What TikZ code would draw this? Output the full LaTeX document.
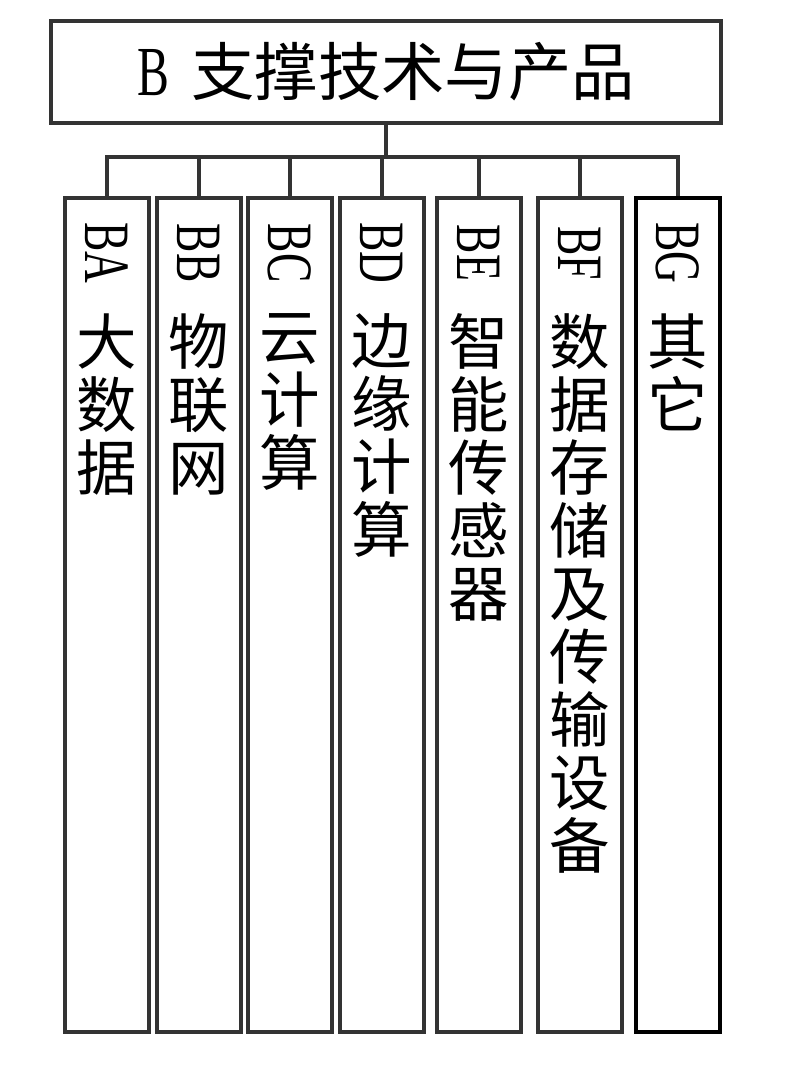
\documentclass[tikz,border=0pt]{standalone}
\usepackage{graphicx}
\usepackage{fontspec}
\setmainfont{Liberation Serif}
\newfontfamily\cjk{Noto Sans CJK SC}
\usetikzlibrary{positioning}
\newcommand{\narrowlat}[1]{\scalebox{0.68}[1]{#1}}

\begin{document}
\begin{tikzpicture}[x=0.025cm,y=-0.025cm,
  box/.style={draw=black!80,line width=2.6pt,inner sep=0pt},
  leaf/.style={box,minimum width=2.1cm,minimum height=20.85cm,anchor=north},
  code/.style={rotate=-90,inner sep=0pt,font=\fontsize{46pt}{46pt}\selectfont},
  cn/.style={anchor=north,inner sep=0pt,align=center,font=\cjk\fontsize{43pt}{44.8pt}\selectfont}]
  \useasboundingbox (0,0) rectangle (800,1073);
  \node[box,line width=2.8pt,minimum width=16.75cm,minimum height=2.55cm] (top) at (386,72)
    {\fontsize{50pt}{50pt}\selectfont\narrowlat{B}\hspace{16pt}{\cjk\fontsize{45pt}{45pt}\selectfont 支撑技术与产品}};
  \coordinate (bar) at (386,157);
  \draw[black!80,line width=2.6pt] (top.south) -- (bar);
  \foreach \n/\x/\c/\t in {BA/107/black!80/{大\\数\\据}, BB/199/black!80/{物\\联\\网},
      BC/290/black!80/{云\\计\\算}, BD/382/black!80/{边\\缘\\计\\算},
      BE/479/black!80/{智\\能\\传\\感\\器},
      BF/580/black!80/{数\\据\\存\\储\\及\\传\\输\\设\\备}, BG/678/black/{其\\它}} {
    \node[leaf,draw=\c] (\n) at (\x,196) {};
    \node[code] (\n c) at (\x,253) {\narrowlat{\n}};
    \node[cn] (\n t) at (\x,313) {\t};
    \draw[black!80,line width=2.6pt] (\n.north) |- (bar);
  }
\end{tikzpicture}
\end{document}
